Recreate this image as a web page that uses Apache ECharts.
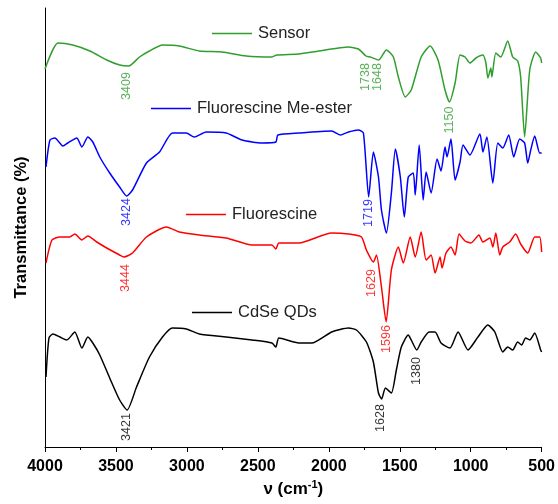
<!DOCTYPE html>
<html>
<head>
<meta charset="utf-8">
<script src="https://cdn.jsdelivr.net/npm/echarts@6/dist/echarts.min.js"></script>
<style>
html,body{margin:0;padding:0;background:#fff;}
#c{width:558px;height:504px;}
</style>
</head>
<body>
<div id="c"></div>
<script>
// ---- Data (wavenumber in cm^-1, transmittance in arbitrary stacked units) ----
const xTicks = [4000, 3500, 3000, 2500, 2000, 1500, 1000, 500];

const seriesNames = ['Sensor', 'Fluorescine Me-ester', 'Fluorescine', 'CdSe QDs'];
const seriesColors = ['#2f9e2f', '#0000ff', '#ff0000', '#000000'];

const sensorNu = [4000,3909,3804,3684,3565,3474,3409,3334,3264,3172,3053,2913,2752,2583,2401,2366,2211,2071,1861,1791,1738,1707,1648,1594,1545,1510,1461,1419,1349,1286,1230,1181,1150,1110,1075,1040,1005,963,914,893,879,858,851,823,788,739,704,669,648,620,584,542,507,500];
const sensorT  = [378,404,402,396,387,382,381,390,396,402,401,396,395,391,390,392,393,396,400,398,391,390,387,397,390,370,350,357,390,401,387,357,345,364,392,390,384,389,392,384,369,379,370,394,390,406,390,386,370,310,377,395,389,384];

const esterNu = [3993,3965,3930,3874,3839,3776,3740,3698,3663,3614,3544,3474,3424,3383,3285,3193,3102,3004,2948,2864,2723,2611,2471,2373,2359,2211,1980,1917,1861,1791,1756,1719,1686,1650,1629,1594,1559,1531,1496,1468,1440,1405,1391,1363,1335,1314,1279,1237,1209,1181,1167,1139,1110,1075,1054,1005,935,914,886,844,809,774,732,697,655,620,598,577,549,514,500];
const esterT  = [280,307,309,301,304,309,300,310,305,290,274,260,251,257,284,295,314,314,310,315,314,307,304,305,312,314,316,312,315,317,314,250,295,270,237,214,254,298,270,230,270,274,252,302,247,275,254,288,276,300,290,308,267,285,302,292,313,295,310,264,304,299,312,290,308,304,284,297,311,294,294];

const fluorNu = [3993,3951,3895,3825,3790,3740,3698,3635,3565,3474,3444,3383,3285,3144,3053,2913,2723,2541,2401,2373,2352,2211,1980,1861,1770,1735,1686,1664,1629,1596,1559,1510,1475,1426,1391,1349,1314,1279,1251,1216,1202,1174,1139,1110,1082,1040,998,942,914,865,844,823,795,774,725,683,648,598,549,514,500];
const fluorT  = [184,207,210,210,213,207,211,205,199,192,190,194,210,220,215,212,209,202,202,198,204,204,214,213,210,197,185,192,160,125,177,200,184,210,190,215,187,192,174,190,179,194,200,192,213,206,204,212,205,209,200,214,192,200,205,213,203,194,210,210,195];

const cdseNu = [3993,3972,3944,3895,3846,3790,3740,3698,3663,3614,3544,3474,3421,3355,3264,3172,3102,3004,2913,2723,2541,2401,2373,2352,2211,2120,1980,1861,1805,1735,1686,1650,1628,1601,1559,1524,1489,1440,1419,1380,1349,1293,1251,1209,1146,1089,1019,949,879,830,774,739,704,669,641,613,584,549,507,500];
const cdseT  = [70,109,113,110,107,115,99,110,104,92,69,47,37,60,90,110,119,118,113,110,107,104,100,109,104,104,115,119,117,105,85,54,48,59,54,77,100,112,107,97,105,115,115,104,99,115,97,110,122,115,95,100,97,105,102,109,107,114,97,95];

// Peak annotations: [text, label-centre wavenumber, label-centre value, series index]
const annText = ['3409','1738','1648','1150','3424','1719','3444','1629','1596','3421','1628','1380'];
const annNu   = [3425, 1742, 1657, 1146, 3425, 1721, 3432, 1700, 1594, 3425, 1636, 1384];
const annT    = [361, 370, 370, 327, 235, 234, 169, 164, 108, 20, 29, 76];
const annSer  = [0,0,0,0,1,1,2,2,2,3,3,3];

// ---- Chart ----
const FONT = '"Liberation Sans", Arial, sans-serif';
const chart = echarts.init(document.getElementById('c'), null, {renderer: 'canvas'});

const curves = [[sensorNu, sensorT], [esterNu, esterT], [fluorNu, fluorT], [cdseNu, cdseT]];
const series = curves.map((c, i) => ({
  name: seriesNames[i],
  type: 'line',
  data: c[0].map((nu, k) => [nu, c[1][k]]),
  symbol: 'none',
  smooth: 0.2,
  lineStyle: {color: seriesColors[i], width: 1.5},
  itemStyle: {color: seriesColors[i]},
  silent: true,
  z: 3
}));

seriesNames.forEach((n, i) => {
  const pts = [];
  annText.forEach((t, k) => { if (annSer[k] === i) pts.push({value: [annNu[k], annT[k]], name: t}); });
  series.push({
    name: n + ' labels',
    type: 'scatter',
    data: pts,
    symbolSize: 0,
    silent: true,
    z: 4,
    label: {
      show: true, position: 'inside', rotate: 90,
      formatter: p => p.name,
      color: seriesColors[i], fontSize: 12.5, fontFamily: FONT
    }
  });
});

const legendPos = [[212, 25], [151, 100], [186, 206], [192, 304]];
const legends = seriesNames.map((n, i) => ({
  data: [{name: n, icon: 'rect', itemStyle: {color: seriesColors[i]}}],
  left: legendPos[i][0], top: legendPos[i][1],
  orient: 'horizontal',
  padding: 0, itemGap: 0,
  itemWidth: 40, itemHeight: 1.5,
  selectedMode: false,
  textStyle: {fontSize: 16.5, color: '#222', fontFamily: FONT, padding: [0,0,0,1]}
}));

chart.setOption({
  animation: false,
  backgroundColor: '#fff',
  grid: {left: 45, right: 14, top: 8, bottom: 57, containLabel: false},
  legend: legends,
  xAxis: {
    type: 'value', inverse: true, min: 500, max: 4000, interval: 500,
    name: '{a|ν (cm}{s|-1}{a|)}',
    nameLocation: 'middle', nameGap: 30,
    nameTextStyle: {
      rich: {
        a: {fontSize: 17, fontWeight: 'bold', color: '#000', fontFamily: FONT},
        s: {fontSize: 11, fontWeight: 'bold', color: '#000', fontFamily: FONT, verticalAlign: 'top', padding: [0,0,8,0]}
      }
    },
    axisLine: {show: true, lineStyle: {color: '#000', width: 1}},
    axisTick: {show: true, inside: false, length: 5, lineStyle: {color: '#000'}},
    minorTick: {show: true, splitNumber: 2, length: 3, lineStyle: {color: '#000'}},
    axisLabel: {fontSize: 16, fontWeight: 'bold', color: '#000', fontFamily: FONT, margin: 12,
      formatter: v => xTicks.indexOf(v) >= 0 ? String(v) : ''},
    splitLine: {show: false}
  },
  yAxis: {
    type: 'value', min: 0, max: 439,
    name: 'Transmittance (%)', nameLocation: 'middle', nameGap: 15,
    nameTextStyle: {fontSize: 16.5, fontWeight: 'bold', color: '#000', fontFamily: FONT},
    axisLine: {show: true, lineStyle: {color: '#000', width: 1}},
    axisTick: {show: false}, axisLabel: {show: false}, splitLine: {show: false}
  },
  series: series
});
</script>
</body>
</html>
